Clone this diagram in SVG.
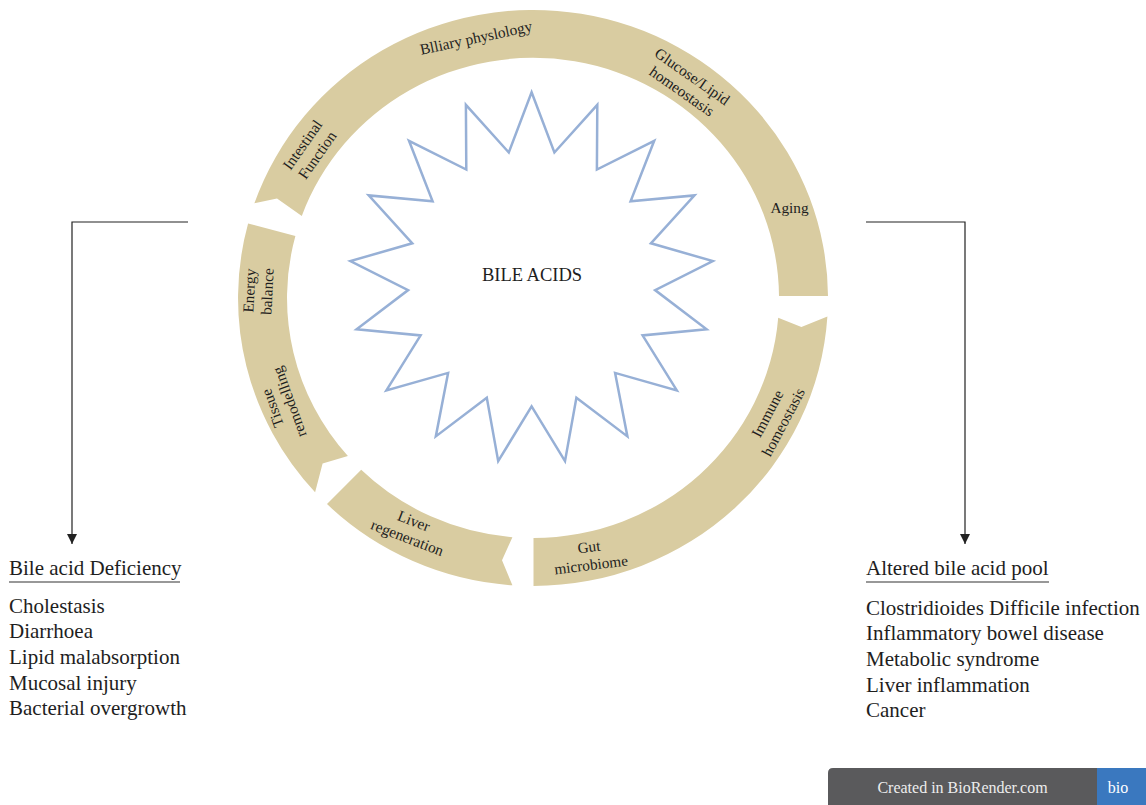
<svg xmlns="http://www.w3.org/2000/svg" width="1146" height="805" viewBox="0 0 1146 805">
<defs>
<style>
.seg{fill:#D9CCA1;stroke:none}
.lbl{font-family:"Liberation Serif","Times New Roman",serif;font-size:15.3px;fill:#1e1e1e;text-anchor:middle}
.list{font-family:"Liberation Serif","Times New Roman",serif;font-size:21px;fill:#1e1e1e}
.conn{fill:none;stroke:#222;stroke-width:1.2}
.ul{stroke:#333;stroke-width:1.2}
</style>
<marker id="ah" viewBox="0 0 10 10" refX="10" refY="5" markerWidth="10" markerHeight="10" markerUnits="userSpaceOnUse" orient="auto">
<path d="M0,0 L10,5 L0,10 Z" fill="#222"/>
</marker>
</defs>
<rect width="1146" height="805" fill="#fff"/>

<g id="ring">
<g id="seg-top">
<path class="seg" d="M254.4 203.3 A295 288 0 0 1 828 296 L779 296 A246 240 0 0 0 301.8 215.9 L277 198.5 Z"/>
<text class="lbl" transform="translate(476,38) rotate(-12)"><tspan x="0" y="5">Blliary physlology</tspan></text>
<text class="lbl" transform="translate(687,84) rotate(35)"><tspan x="0" y="-4">Glucose/Lipid</tspan><tspan x="0" y="14">homeostasis</tspan></text>
<text class="lbl" x="789.5" y="213">Aging</text>
<text class="lbl" transform="translate(310,150) rotate(-55)"><tspan x="0" y="-4">Intestinal</tspan><tspan x="0" y="14">Function</tspan></text>
</g>
<g id="seg-right">
<path class="seg" d="M827.4 316.6 A295 288 0 0 1 533.5 586 L533.5 538 A246 240 0 0 0 778.2 317.7 L801.4 327 Z"/>
<text class="lbl" transform="translate(775.5,418) rotate(-62)"><tspan x="0" y="-4">Immune</tspan><tspan x="0" y="14">homeostasis</tspan></text>
<text class="lbl" transform="translate(590,556) rotate(-7)"><tspan x="0" y="-4">Gut</tspan><tspan x="0" y="14">microbiome</tspan></text>
</g>
<g id="seg-bottom">
<path class="seg" d="M512.4 585.3 A295 288 0 0 1 327 504.1 L361.2 469.8 A246 240 0 0 0 512.4 537.2 L502 560.2 Z"/>
<text class="lbl" transform="translate(410.5,529.5) rotate(21)"><tspan x="0" y="-4">Liver</tspan><tspan x="0" y="14">regeneration</tspan></text>
</g>
<g id="seg-left">
<path class="seg" d="M315.1 492.2 A295 288 0 0 1 248.1 223.5 L295.4 235.9 A246 240 0 0 0 347.9 456.1 L322.6 463.4 Z"/>
<text class="lbl" transform="translate(258.5,291) rotate(-87)"><tspan x="0" y="-4">Energy</tspan><tspan x="0" y="14">balance</tspan></text>
<text class="lbl" transform="translate(281,405) rotate(-110)"><tspan x="0" y="-4">Tissue</tspan><tspan x="0" y="14">remodelling</tspan></text>
</g>
</g>

<g id="bile-acids">
<polygon fill="none" stroke="#97B0D6" stroke-width="2.5" stroke-linejoin="miter" points="531.6,92.3 554.4,152.5 597.3,104.9 596.9,169.5 654.2,140.8 630.6,201.2 694.5,195.4 650.9,243.3 712.8,261.1 655.1,290.1 706.6,329.2 642.6,335.4 676.8,390.4 615.1,372.9 627.4,436.4 576.4,397.7 565,461.1 531.6,406.3 498.2,461.1 486.8,397.7 435.8,436.4 448.1,372.9 386.4,390.4 420.6,335.4 356.6,329.2 408.1,290.1 350.4,261.1 412.3,243.3 368.7,195.4 432.6,201.2 409,140.8 466.3,169.5 465.9,104.9 508.8,152.5"/>
<text x="532" y="281" font-family="Liberation Serif, Times New Roman, serif" font-size="18.5" fill="#1e1e1e" text-anchor="middle">BILE ACIDS</text>
</g>

<g id="connectors">
<polyline class="conn" points="188,222 72,222 72,544" marker-end="url(#ah)"/>
<polyline class="conn" points="866,222 965,222 965,544" marker-end="url(#ah)"/>
</g>

<g id="deficiency">
<text class="list" x="9" y="575">Bile acid Deficiency</text>
<line class="ul" x1="9" y1="582" x2="180" y2="582"/>
<text class="list" x="9" y="612.7">Cholestasis</text>
<text class="list" x="9" y="638.3">Diarrhoea</text>
<text class="list" x="9" y="663.9">Lipid malabsorption</text>
<text class="list" x="9" y="689.5">Mucosal injury</text>
<text class="list" x="9" y="715.1">Bacterial overgrowth</text>
</g>

<g id="altered">
<text class="list" x="866" y="575">Altered bile acid pool</text>
<line class="ul" x1="866" y1="582" x2="1049" y2="582"/>
<text class="list" x="866" y="614.7">Clostridioides Difficile infection</text>
<text class="list" x="866" y="640.3">Inflammatory bowel disease</text>
<text class="list" x="866" y="665.9">Metabolic syndrome</text>
<text class="list" x="866" y="691.5">Liver inflammation</text>
<text class="list" x="866" y="717.1">Cancer</text>
</g>

<g id="badge">
<path d="M828 805 L828 773 Q828 768 833 768 L1097 768 L1097 805 Z" fill="#5A5A5C"/>
<rect x="1097" y="768" width="49" height="37" fill="#3A78BF"/>
<text x="962.5" y="793" font-family="Liberation Serif, Times New Roman, serif" font-size="16" fill="#EDEDED" text-anchor="middle">Created in BioRender.com</text>
<text x="1118" y="793" font-family="Liberation Serif, Times New Roman, serif" font-size="16" fill="#FFFFFF" text-anchor="middle">bio</text>
</g>
</svg>
